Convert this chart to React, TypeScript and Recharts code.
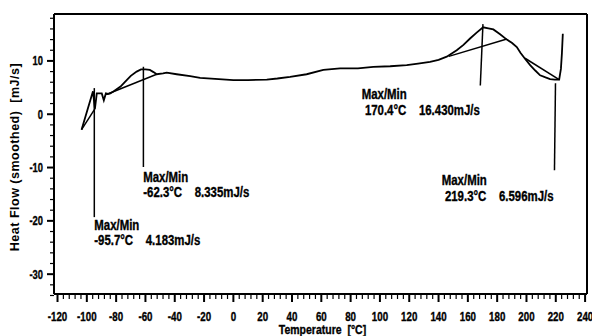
import React from "react";
import { LineChart, Line, XAxis, YAxis, ReferenceLine, ReferenceDot } from "recharts";

// smoothed heat flow curve
const tempC = [
  -103.6, -95.8, -94.5, -93.2, -91, -89.8, -88.4, -87, -85.5, -84, -81.6, -77, -72.8, -70, -66, -63,
  -60, -57, -54.5, -52.3, -48, -45.5, -38.7, -29.5, -22.7, -10, 0, 10, 22.8, 30, 38.7, 50, 61.4, 72.8,
  85, 95.5, 107, 118.3, 126, 134.2, 140, 145.6, 152.4, 157, 161.5, 166, 170.4, 174, 177.4, 182, 186.6,
  190, 193.4, 196, 199, 202.5, 206, 209.3, 213, 216.1, 219.3, 222.3, 223.5, 224.2, 224.8,
];
const heatFlow = [
  -2.9, 4.3, 1.0, 3.9, 3.9, 3.9, 2.6, 3.9, 3.8, 3.9, 4.3, 5.2, 6.4, 7.2, 8.0, 8.4,
  8.4, 8.3, 7.9, 7.5, 7.65, 7.8, 7.5, 7.15, 6.8, 6.6, 6.4, 6.4, 6.5, 6.7, 7.0, 7.5, 8.3, 8.6,
  8.6, 8.9, 9.0, 9.2, 9.5, 9.8, 10.2, 10.8, 12.0, 13.0, 14.2, 15.3, 16.3, 16.1, 15.9, 15.0, 14.0,
  13.4, 12.6, 11.5, 10.4, 9.2, 8.2, 7.3, 6.9, 6.6, 6.5, 6.5, 8.5, 11.5, 15.1,
];

// straight baselines drawn under each event: [t1, v1, t2, v2]
const baselines = [
  [-103.6, -2.9, -94.5, 1.0],
  [-85, 3.9, -52.3, 7.5],
  [147, 10.85, 186.6, 14.1],
  [199, 10.5, 222.3, 6.5],
];

// Max/Min events
const peakTemps = ["-95.7", "-62.3", " 170.4", " 219.3"];
const peakFlows = ["4.183", "8.335", "16.430", "6.596"];
// marker lines: [t top, v top, t bottom, v bottom]
const markers = [
  [-94.9, 4.9, -94.9, -19.3],
  [-61.4, 8.9, -61.4, -9.9],
  [170.3, 16.9, 168.5, 5.4],
  [219.8, 5.8, 219.1, -10.5],
];
const labelT = [-94.9, -61.5, 87.6, 142.2];
const labelV = [-21.7, -12.7, 2.8, -13.3];

const xMajor = [-120, -100, -80, -60, -40, -20, 0, 20, 40, 60, 80, 100, 120, 140, 160, 180, 200, 220, 240];
const yMajor = [-30, -20, -10, 0, 10];
const xTicks: number[] = [];
for (let t = -120; t <= 240; t += 4) xTicks.push(t);
const yTicks: number[] = [];
for (let v = -34; v <= 18; v += 2) yTicks.push(v);

const data = tempC.map((t, i) => ({ t, v: heatFlow[i] }));

const FONT = "'Liberation Sans', Arial, sans-serif";

// bold text squeezed horizontally, like the instrument's narrow font
const Narrow = ({ x, y, size, sx, anchor = "start", children }: any) => (
  <text
    transform={`translate(${x} ${y}) scale(${sx} 1)`}
    x={0}
    y={0}
    textAnchor={anchor}
    fontFamily={FONT}
    fontWeight="bold"
    fontSize={size}
    fill="#000"
    stroke="#000"
    strokeWidth={0.35}
    style={{ whiteSpace: "pre" }}
  >
    {children}
  </text>
);

const XTick = ({ x, y, payload }: any) => {
  const major = xMajor.includes(payload.value);
  return (
    <g>
      <line x1={x} x2={x} y1={y} y2={y + (major ? 8 : 5)} stroke="#000" strokeWidth={major ? 2 : 1.2} />
      {major && (
        <Narrow x={x} y={y + 26.5} size={13} sx={0.75} anchor="middle">
          {payload.value}
        </Narrow>
      )}
    </g>
  );
};

const YTick = ({ x, y, payload }: any) => {
  const major = yMajor.includes(payload.value);
  return (
    <g>
      <line x1={x} x2={x - (major ? 7 : 4)} y1={y} y2={y} stroke="#000" strokeWidth={major ? 2 : 1.2} />
      {major && (
        <Narrow x={x - 11} y={y + 4.5} size={13} sx={0.72} anchor="end">
          {payload.value}
        </Narrow>
      )}
    </g>
  );
};

const PeakLabel = (i: number) => (props: any) => {
  const { x, y } = props.viewBox;
  return (
    <g>
      <Narrow x={x} y={y} size={14} sx={0.815}>Max/Min</Narrow>
      <Narrow x={x} y={y + 15.5} size={14} sx={0.815}>{`${peakTemps[i]}°C    ${peakFlows[i]}mJ/s`}</Narrow>
    </g>
  );
};

export default function App() {
  return (
    <div style={{ position: "absolute", left: 0, top: 0, width: 592, height: 336, background: "#fff" }}>
      <LineChart width={592} height={336} data={data} margin={{ top: 14, right: 5, bottom: 0, left: 0 }}>
        <XAxis
          dataKey="t"
          type="number"
          domain={[-122.4, 241.3]}
          allowDataOverflow
          ticks={xTicks}
          interval={0}
          tickSize={0}
          tickMargin={0}
          height={42}
          axisLine={{ stroke: "#000", strokeWidth: 2 }}
          tick={<XTick />}
          label={{
            content: (p: any) => (
              <Narrow x={p.viewBox.x + p.viewBox.width / 2 + 2} y={p.viewBox.y + 40} size={12.5} sx={0.84} anchor="middle">
                {"Temperature  [°C]"}
              </Narrow>
            ),
          }}
        />
        <YAxis
          type="number"
          domain={[-33.72, 18.8]}
          allowDataOverflow
          ticks={yTicks}
          interval={0}
          tickSize={0}
          tickMargin={0}
          width={54}
          axisLine={{ stroke: "#000", strokeWidth: 2 }}
          tick={<YTick />}
          label={{
            content: (p: any) => {
              const cx = 15;
              const cy = p.viewBox.y + p.viewBox.height / 2 + 3;
              return (
                <text
                  x={cx}
                  y={cy}
                  transform={`rotate(-90 ${cx} ${cy})`}
                  textAnchor="middle"
                  dominantBaseline="central"
                  fontFamily={FONT}
                  fontWeight="bold"
                  fontSize={12.5}
                  letterSpacing={0.5}
                  fill="#000"
                  style={{ whiteSpace: "pre" }}
                >
                  {"Heat Flow (smoothed)  [mJ/s]"}
                </text>
              );
            },
          }}
        />
        <ReferenceLine y={18.8} stroke="#000" strokeWidth={2} />
        <ReferenceLine x={241.3} stroke="#000" strokeWidth={2} />
        {baselines.map((b, i) => (
          <ReferenceLine key={`b${i}`} segment={[{ x: b[0], y: b[1] }, { x: b[2], y: b[3] }]} stroke="#000" strokeWidth={1.5} />
        ))}
        {markers.map((m, i) => (
          <ReferenceLine key={`m${i}`} segment={[{ x: m[0], y: m[1] }, { x: m[2], y: m[3] }]} stroke="#000" strokeWidth={1.5} />
        ))}
        {labelT.map((t, i) => (
          <ReferenceDot key={`l${i}`} x={t} y={labelV[i]} r={0} fill="none" stroke="none" label={{ content: PeakLabel(i) }} />
        ))}
        <Line
          dataKey="v"
          type="linear"
          stroke="#000"
          strokeWidth={1.8}
          dot={false}
          activeDot={false}
          isAnimationActive={false}
        />
      </LineChart>
    </div>
  );
}
